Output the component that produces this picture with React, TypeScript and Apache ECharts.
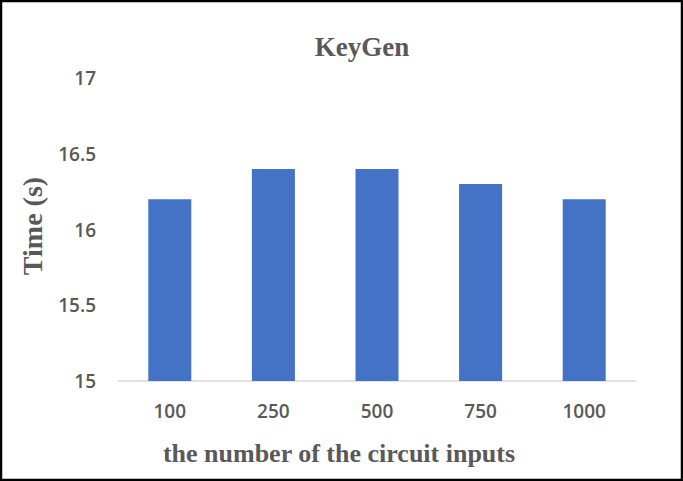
import React, { useEffect, useRef } from "react";
import * as echarts from "echarts";

const categories = ["100", "250", "500", "750", "1000"];
const timeValues = [16.2, 16.4, 16.4, 16.3, 16.2];
const titleText = "KeyGen";
const xAxisName = "the number of the circuit inputs";
const yAxisName = "Time (s)";

export default function App() {
  const ref = useRef<HTMLDivElement>(null);
  useEffect(() => {
    const chart = echarts.init(ref.current!, null, { renderer: "svg" });
    chart.setOption({
      animation: false,
      backgroundColor: "#ffffff",
      title: {
        text: titleText,
        left: 357,
        top: 28,
        textAlign: "center",
        textStyle: {
          fontFamily: "Liberation Serif",
          fontWeight: "bold",
          fontSize: 27,
          color: "#595959",
        },
      },
      grid: { left: 118, right: 47, top: 78, bottom: 100, containLabel: false },
      xAxis: {
        type: "category",
        data: categories,
        name: xAxisName,
        nameLocation: "middle",
        nameGap: 59,
        nameTextStyle: {
          fontFamily: "Liberation Serif",
          fontWeight: "bold",
          fontSize: 26,
          color: "#595959",
          padding: [0, 76, 0, 0],
        },
        axisLine: { show: true, lineStyle: { color: "#d9d9d9", width: 1.5 } },
        axisTick: { show: false },
        axisLabel: {
          margin: 20,
          fontFamily: "Open Sans",
          fontWeight: 600,
          fontSize: 19,
          color: "#595959",
        },
      },
      yAxis: {
        type: "value",
        min: 15,
        max: 17,
        interval: 0.5,
        name: yAxisName,
        nameLocation: "middle",
        nameGap: 72,
        nameTextStyle: {
          fontFamily: "Liberation Serif",
          fontWeight: "bold",
          fontSize: 28,
          color: "#595959",
          padding: [0, 0, 0, 7],
        },
        axisLine: { show: false },
        axisTick: { show: false },
        splitLine: { show: false },
        axisLabel: {
          margin: 22,
          fontFamily: "Open Sans",
          fontWeight: 600,
          fontSize: 19,
          color: "#595959",
        },
      },
      series: [
        {
          type: "bar",
          data: timeValues,
          barWidth: 43,
          itemStyle: { color: "#4472c4" },
        },
      ],
      graphic: [
        {
          type: "rect",
          shape: { x: 1, y: 1, width: 681, height: 479 },
          style: { fill: "none", stroke: "#000000", lineWidth: 2.5 },
          silent: true,
        },
      ],
    });
    return () => chart.dispose();
  }, []);
  return (
    <div
      ref={ref}
      style={{ position: "absolute", left: 0, top: 0, width: 683, height: 481 }}
    />
  );
}
